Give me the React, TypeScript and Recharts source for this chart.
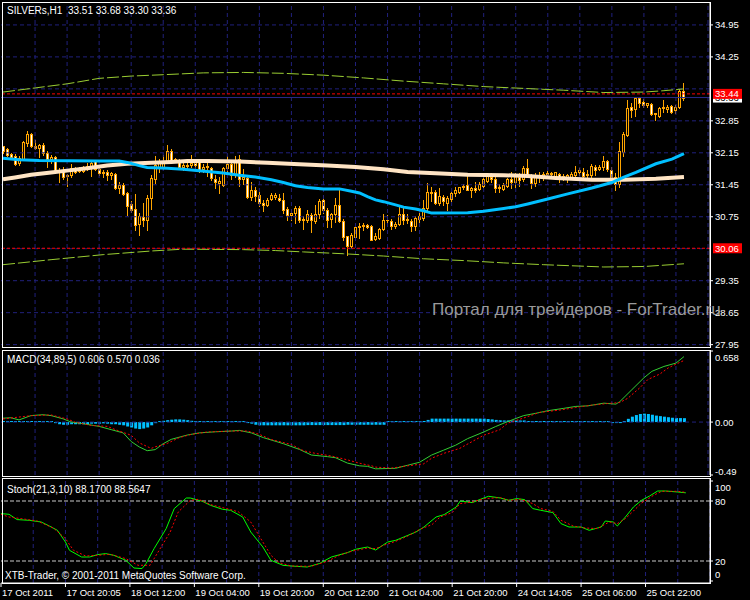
import React from "react";
import { ComposedChart, Bar, Line, XAxis, YAxis, ReferenceLine } from "recharts";

// H1 candles
const opens = [
  32.29, 32.23, 32.12, 32.08, 31.92, 32.01, 32.36, 32.57, 32.29, 32.25,
  32.33, 32.14, 32.01, 32.06, 31.78, 31.74, 31.65, 31.67, 31.79, 31.76,
  31.76, 31.81, 31.83, 31.96, 31.79, 31.71, 31.73, 31.67, 31.69, 31.39,
  31.45, 31.28, 31.03, 30.92, 30.6, 30.74, 30.67, 31.15, 31.57, 31.85,
  31.85, 31.96, 32.2, 32.01, 31.98, 31.85, 31.87, 31.89, 31.92, 31.94,
  31.79, 31.85, 31.81, 31.57, 31.49, 31.45, 31.81, 31.91, 31.67, 32.01,
  31.57, 31.6, 31.19, 31.33, 31.23, 31.05, 31.01, 31.14, 31.18, 31.16,
  31.11, 30.92, 30.79, 30.83, 30.94, 30.67, 30.67, 30.79, 30.65, 30.81,
  31.12, 30.9, 30.7, 30.81, 31.01, 30.65, 30.32, 30.12, 30.31, 30.52,
  30.55, 30.57, 30.55, 30.26, 30.28, 30.48, 30.67, 30.65, 30.54, 30.6,
  30.82, 30.68, 30.65, 30.55, 30.7, 30.72, 30.94, 31.28, 31.3, 31.05,
  31.18, 31.06, 31.14, 31.28, 31.3, 31.4, 31.45, 31.34, 31.38, 31.35,
  31.43, 31.54, 31.62, 31.57, 31.38, 31.35, 31.43, 31.57, 31.52, 31.62,
  31.57, 31.81, 31.65, 31.49, 31.65, 31.62, 31.68, 31.71, 31.65, 31.68,
  31.62, 31.62, 31.63, 31.67, 31.72, 31.72, 31.67, 31.67, 31.84, 31.79,
  31.84, 31.98, 31.78, 31.63, 31.47, 32.16, 32.54, 33.16, 33.11, 33.35,
  33.27, 33.2, 33.22, 33.0, 32.96, 33.13, 33.1, 33.18, 33.08, 33.16,
  33.51,
];
const highs = [
  32.3, 32.25, 32.14, 32.12, 32.07, 32.4, 32.62, 32.59, 32.42, 32.35,
  32.36, 32.18, 32.11, 32.08, 31.81, 31.85, 31.69, 31.91, 31.85, 31.85,
  31.87, 31.92, 31.96, 32.0, 31.85, 31.78, 31.78, 31.74, 31.71, 31.52,
  31.49, 31.3, 31.09, 31.25, 30.83, 31.05, 31.23, 31.67, 32.08, 32.01,
  32.11, 32.33, 32.23, 32.03, 32.01, 31.92, 31.94, 32.11, 32.01, 31.96,
  31.91, 32.0, 31.85, 31.67, 31.63, 31.84, 32.07, 31.94, 32.08, 32.11,
  31.79, 31.62, 31.5, 31.41, 31.3, 31.12, 31.16, 31.27, 31.27, 31.25,
  31.27, 30.96, 30.92, 30.98, 30.98, 30.76, 30.89, 30.83, 31.01, 31.14,
  31.23, 30.94, 30.84, 31.16, 31.34, 30.7, 30.33, 30.39, 30.61, 30.61,
  30.61, 30.6, 30.58, 30.39, 30.5, 30.82, 30.79, 30.7, 30.63, 30.98,
  30.94, 30.82, 30.7, 30.77, 30.83, 31.12, 31.49, 31.4, 31.34, 31.38,
  31.23, 31.21, 31.3, 31.41, 31.41, 31.47, 31.69, 31.41, 31.52, 31.5,
  31.62, 31.7, 31.7, 31.62, 31.47, 31.49, 31.6, 31.74, 31.7, 31.7,
  31.86, 32.01, 31.69, 31.71, 31.72, 31.72, 31.76, 31.72, 31.74, 31.71,
  31.69, 31.69, 31.74, 31.87, 31.81, 31.81, 31.78, 31.91, 31.89, 31.89,
  32.08, 32.0, 31.84, 31.71, 32.38, 32.6, 33.31, 33.25, 33.37, 33.37,
  33.32, 33.25, 33.24, 33.03, 33.15, 33.3, 33.19, 33.19, 33.2, 33.54,
  33.68,
];
const lows = [
  32.14, 32.07, 32.03, 31.89, 31.89, 32.0, 32.3, 32.27, 32.23, 32.06,
  32.11, 31.85, 31.92, 31.71, 31.52, 31.57, 31.43, 31.63, 31.71, 31.72,
  31.72, 31.78, 31.65, 31.78, 31.67, 31.63, 31.56, 31.57, 31.36, 31.28,
  31.23, 30.79, 30.85, 30.47, 30.36, 30.54, 30.47, 30.92, 31.49, 31.74,
  31.79, 31.92, 31.96, 31.96, 31.81, 31.78, 31.81, 31.85, 31.81, 31.74,
  31.74, 31.65, 31.56, 31.38, 31.28, 31.43, 31.7, 31.57, 31.63, 31.43,
  31.47, 31.16, 31.11, 31.09, 30.98, 30.87, 30.98, 31.12, 31.14, 31.09,
  30.84, 30.68, 30.68, 30.61, 30.63, 30.48, 30.63, 30.41, 30.61, 30.72,
  30.84, 30.52, 30.52, 30.63, 30.63, 30.25, 29.92, 30.06, 30.25, 30.28,
  30.47, 30.5, 30.23, 30.25, 30.26, 30.47, 30.61, 30.48, 30.5, 30.58,
  30.6, 30.61, 30.43, 30.47, 30.63, 30.68, 30.9, 31.09, 31.03, 31.01,
  31.01, 30.9, 31.09, 31.21, 31.27, 31.35, 31.33, 31.18, 31.3, 31.33,
  31.4, 31.52, 31.52, 31.3, 31.3, 31.33, 31.41, 31.38, 31.41, 31.43,
  31.54, 31.62, 31.38, 31.43, 31.52, 31.56, 31.63, 31.63, 31.6, 31.52,
  31.55, 31.52, 31.57, 31.63, 31.67, 31.62, 31.63, 31.63, 31.67, 31.78,
  31.78, 31.76, 31.52, 31.34, 31.41, 32.07, 32.51, 32.94, 32.96, 33.16,
  33.16, 33.15, 32.98, 32.87, 32.93, 33.05, 33.05, 33.03, 33.03, 33.13,
  33.3,
];
const closes = [
  32.18, 32.11, 32.06, 31.91, 32.03, 32.38, 32.57, 32.29, 32.25, 32.31,
  32.14, 32.01, 32.05, 31.76, 31.72, 31.63, 31.67, 31.81, 31.74, 31.8,
  31.83, 31.87, 31.92, 31.8, 31.71, 31.72, 31.67, 31.71, 31.38, 31.45,
  31.25, 30.99, 30.89, 30.58, 30.76, 30.67, 31.17, 31.6, 31.89, 31.92,
  31.96, 32.19, 32.0, 31.98, 31.84, 31.89, 31.89, 31.92, 31.89, 31.78,
  31.85, 31.87, 31.6, 31.52, 31.54, 31.81, 31.91, 31.67, 31.98, 31.57,
  31.63, 31.19, 31.34, 31.21, 31.05, 31.01, 31.12, 31.23, 31.23, 31.12,
  30.9, 30.79, 30.84, 30.95, 30.67, 30.7, 30.82, 30.67, 30.81, 31.1,
  30.89, 30.67, 30.81, 31.01, 30.65, 30.3, 30.12, 30.36, 30.52, 30.55,
  30.57, 30.52, 30.25, 30.32, 30.48, 30.67, 30.68, 30.54, 30.6, 30.82,
  30.68, 30.71, 30.54, 30.72, 30.76, 30.94, 31.29, 31.3, 31.05, 31.21,
  31.09, 31.16, 31.28, 31.33, 31.4, 31.43, 31.34, 31.38, 31.33, 31.47,
  31.57, 31.65, 31.57, 31.38, 31.41, 31.45, 31.57, 31.52, 31.63, 31.56,
  31.81, 31.63, 31.49, 31.67, 31.62, 31.68, 31.71, 31.68, 31.72, 31.62,
  31.65, 31.67, 31.68, 31.72, 31.78, 31.65, 31.69, 31.87, 31.78, 31.84,
  31.98, 31.79, 31.63, 31.47, 32.18, 32.57, 33.13, 33.08, 33.35, 33.24,
  33.2, 33.24, 32.99, 33.02, 33.13, 33.16, 33.16, 33.05, 33.16, 33.51,
  33.36,
];

// indicator lines, [bar, value] read at key points
const fastMA: [number, number][] = [
  [0, 32.03], [4, 32.0], [9, 31.98], [24, 31.97], [29, 31.97], [31, 31.94], [34, 31.87],
  [36, 31.83], [41, 31.81], [43, 31.8], [45, 31.79], [51, 31.74], [55, 31.71], [59, 31.66],
  [63, 31.62], [67, 31.56], [70, 31.5], [73, 31.43], [76, 31.39], [80, 31.36], [84, 31.36],
  [87, 31.31], [89, 31.27], [91, 31.19], [93, 31.12], [95, 31.08], [98, 31.01], [100, 30.96],
  [103, 30.92], [105, 30.88], [107, 30.83], [116, 30.84], [120, 30.87], [125, 30.93],
  [128, 30.97], [131, 31.03], [136, 31.14], [141, 31.25], [147, 31.38], [152, 31.5],
  [155, 31.62], [158, 31.72], [163, 31.91], [167, 32.01], [170, 32.13],
];
const slowMA: [number, number][] = [
  [0, 31.57], [3, 31.61], [7, 31.67], [12, 31.72], [16, 31.76], [21, 31.81], [26, 31.87],
  [31, 31.91], [37, 31.93], [42, 31.95], [46, 31.97], [51, 31.97], [59, 31.96], [66, 31.93],
  [74, 31.9], [81, 31.87], [88, 31.84], [95, 31.79], [101, 31.73], [108, 31.7], [116, 31.67],
  [125, 31.66], [131, 31.64], [138, 31.6], [147, 31.56], [155, 31.56], [163, 31.58], [170, 31.62],
];
const envUpper: [number, number][] = [
  [0, 33.48], [8, 33.57], [16, 33.66], [24, 33.78], [32, 33.83], [40, 33.86], [50, 33.9],
  [60, 33.91], [70, 33.89], [80, 33.85], [90, 33.79], [100, 33.72], [110, 33.66], [120, 33.6],
  [130, 33.56], [140, 33.52], [150, 33.47], [160, 33.48], [165, 33.51], [170, 33.55],
];
const envLower: [number, number][] = [
  [0, 29.7], [12, 29.81], [25, 29.92], [37, 30.0], [45, 30.04], [60, 30.03], [68, 30.01],
  [75, 29.98], [85, 29.94], [95, 29.89], [105, 29.83], [115, 29.79], [125, 29.74],
  [135, 29.7], [150, 29.65], [160, 29.66], [170, 29.72],
];

const macdMain: [number, number][] = [
  [0, 0.036], [2, 0.04], [4, 0.02], [7, 0.06], [10, 0.068], [12, 0.06], [15, 0.03], [17, 0],
  [20, -0.015], [24, -0.04], [27, -0.07], [30, -0.1], [32, -0.18], [34, -0.23], [36, -0.265],
  [38, -0.255], [40, -0.2], [42, -0.16], [46, -0.12], [49, -0.1], [53, -0.09], [57, -0.083],
  [59, -0.077], [62, -0.1], [65, -0.144], [70, -0.2], [74, -0.253], [77, -0.305], [81, -0.32],
  [83, -0.33], [86, -0.38], [89, -0.405], [91, -0.41], [93, -0.433], [98, -0.428], [101, -0.4],
  [104, -0.372], [107, -0.305], [110, -0.26], [113, -0.214], [116, -0.153], [120, -0.092],
  [123, -0.041], [126, 0.005], [130, 0.06], [133, 0.081], [136, 0.105], [140, 0.127],
  [143, 0.145], [146, 0.15], [150, 0.175], [153, 0.166], [154, 0.19], [157, 0.3], [160, 0.41],
  [162, 0.47], [165, 0.515], [168, 0.546], [170, 0.606],
];
const macdSignal: [number, number][] = [
  [0, 0.029], [2, 0.038], [7, 0.059], [12, 0.066], [16, 0.029], [18, -0.001], [22, -0.031],
  [26, -0.04], [29, -0.083], [32, -0.122], [34, -0.192], [37, -0.244], [38, -0.229],
  [41, -0.198], [44, -0.144], [47, -0.114], [51, -0.092], [57, -0.083], [61, -0.083],
  [64, -0.114], [67, -0.162], [72, -0.208], [75, -0.265], [78, -0.29], [82, -0.314],
  [86, -0.35], [89, -0.381], [92, -0.405], [93, -0.417], [97, -0.426], [101, -0.405],
  [105, -0.387], [107, -0.335], [110, -0.29], [114, -0.244], [117, -0.183], [120, -0.122],
  [124, -0.071], [126, -0.01], [130, 0.038], [134, 0.09], [139, 0.111], [143, 0.135],
  [147, 0.157], [151, 0.172], [154, 0.181], [156, 0.221], [159, 0.318], [161, 0.394],
  [164, 0.445], [166, 0.5], [168, 0.536], [170, 0.57],
];
const macdHist = [
  0.003, 0.003, 0.003, 0.003, 0.003, 0.003, 0.003, 0.003, 0.003, 0.003, 0.003, 0.003, 0.003,
  -0.01, -0.02, -0.025, -0.025, -0.02, -0.02, -0.02, -0.02, -0.018, -0.015, -0.015, -0.015,
  -0.012, -0.015, -0.02, -0.02, -0.025, -0.03, -0.04, -0.05, -0.06, -0.065, -0.06, -0.05,
  -0.03, -0.01, 0.005, 0.012, 0.018, 0.022, 0.025, 0.025, 0.022, 0.018, 0.012, 0.01, 0.008,
  0.006, 0.005, 0.004, 0.002, 0.002, 0.002, 0.002, 0.002, 0.002, 0.002, 0.002, -0.005,
  -0.015, -0.025, -0.03, -0.03, -0.03, -0.03, -0.03, -0.03, -0.03, -0.03, -0.03, -0.03,
  -0.03, -0.03, -0.028, -0.028, -0.028, -0.028, -0.028, -0.028, -0.028, -0.028, -0.028,
  -0.028, -0.025, -0.025, -0.025, -0.025, -0.025, -0.025, -0.025, -0.025, -0.025, -0.025,
  0.002, 0.002, 0.002, 0.002, 0.002, 0.002, 0.002, 0.002, 0.002, 0.01, 0.02, 0.032, 0.032,
  0.032, 0.032, 0.032, 0.032, 0.032, 0.032, 0.032, 0.032, 0.032, 0.032, 0.032, 0.032, 0.028,
  0.025, 0.02, 0.017, 0.015, 0.015, 0.015, 0.015, 0.015, 0.015, 0.01, 0.01, 0.01, 0.01, 0.01,
  0.01, 0.01, 0.002, 0.002, 0.002, 0.002, 0.002, 0.002, 0.002, 0.002, 0.002, 0.002, 0.002,
  0.002, 0.002, 0.002, -0.004, -0.005, -0.003, 0.01, 0.03, 0.05, 0.065, 0.075, 0.078, 0.075,
  0.068, 0.06, 0.055, 0.05, 0.045, 0.04, 0.038, 0.037, 0.036,
];

const stochMain: [number, number][] = [
  [0, 67.4], [2, 66.7], [4, 61.4], [7, 60.7], [10, 59], [12, 55], [14, 50.7], [16, 39],
  [17, 30.7], [20, 24], [22, 24], [24, 26.4], [26, 27.4], [28, 25.7], [31, 20.7], [33, 13],
  [35, 12.4], [36, 17.4], [38, 32.4], [41, 52.4], [43, 72.4], [46, 83], [47, 83], [50, 79.7],
  [52, 75.7], [55, 71.7], [57, 70.7], [60, 64], [62, 49], [65, 34], [67, 20.7], [70, 15.7],
  [72, 15], [76, 14], [79, 17.4], [82, 24], [86, 28.4], [88, 31.7], [91, 34], [93, 31],
  [96, 39], [98, 40.7], [100, 44], [103, 49], [105, 54], [108, 64], [110, 66.4], [113, 74],
  [114, 80], [117, 78.4], [119, 81.7], [121, 84.7], [124, 83], [126, 80.7], [128, 82.4],
  [130, 81.4], [132, 72.4], [134, 70.7], [137, 68.4], [139, 57.4], [141, 54], [144, 54],
  [146, 50.7], [149, 54], [150, 60], [152, 59], [153, 55], [155, 64], [157, 74], [159, 80.7],
  [161, 85], [163, 90], [165, 90], [168, 89], [170, 88.2],
];
const stochSignal: [number, number][] = [
  [0, 66.7], [2, 64], [5, 62.4], [9, 60], [13, 53], [16, 42.4], [18, 30.7], [21, 25],
  [24, 25.7], [27, 26.7], [31, 22.4], [34, 15.7], [37, 15.7], [39, 29], [42, 49], [44, 69],
  [47, 80.7], [49, 81.7], [52, 76.4], [57, 71.4], [59, 69], [62, 59], [64, 45.7], [67, 25.7],
  [69, 18.4], [72, 15], [77, 14.7], [81, 19.7], [84, 25.7], [87, 29.7], [91, 33], [93, 32.4],
  [95, 35.7], [98, 39.7], [101, 45], [104, 51.7], [107, 56.4], [109, 64], [112, 68.4],
  [114, 77.4], [117, 79], [120, 82.4], [124, 83.4], [126, 80.7], [129, 81.7], [132, 77.4],
  [134, 72.4], [137, 69.7], [139, 60.7], [142, 55], [145, 53], [148, 52.4], [151, 59],
  [153, 57.4], [155, 62.4], [157, 70], [159, 78], [162, 85.7], [164, 89.7], [168, 89.7],
  [170, 88.6],
];

const timeLabels = [
  "17 Oct 2011", "17 Oct 20:05", "18 Oct 12:00", "19 Oct 04:00", "19 Oct 20:00",
  "20 Oct 12:00", "21 Oct 04:00", "21 Oct 20:00", "24 Oct 14:05", "25 Oct 06:00",
  "25 Oct 22:00",
];
const priceLabels = [34.95, 34.25, 32.85, 32.15, 31.45, 30.75, 29.35, 28.65, 27.95];
const priceGrid = [34.95, 34.25, 33.55, 32.85, 32.15, 31.45, 30.75, 30.05, 29.35, 28.65, 27.95];

const SLOTS = 177; // bars plus the empty shift on the right
const FONT = "'Liberation Sans', Arial, sans-serif";
const ORANGE = "#ffa500";
const GRID = "#20207c";

const rows: any[] = Array.from({ length: SLOTS }, (_, i) => {
  const r: any = { idx: i };
  if (i < opens.length) {
    r.open = opens[i];
    r.high = highs[i];
    r.low = lows[i];
    r.close = closes[i];
    r.range = [lows[i], highs[i]];
    r.hist = macdHist[i];
  }
  return r;
});
const put = (key: string, pts: [number, number][]) =>
  pts.forEach(([i, v]) => {
    rows[i][key] = v;
  });
put("fast", fastMA);
put("slow", slowMA);
put("envUp", envUpper);
put("envDn", envLower);
put("macd", macdMain);
put("signal", macdSignal);
put("k", stochMain);
put("d", stochSignal);

const timeTicks = timeLabels.map((_, i) => i * 16);
const gridTicks = Array.from({ length: 22 }, (_, i) => (i + 1) * 8);

const Candle = (props: any) => {
  const { x, y, width, height, payload } = props;
  if (!payload || payload.open == null) return null;
  const { open, close, high, low } = payload;
  const span = high - low || 1;
  const toY = (v: number) => y + ((high - v) / span) * height;
  const cx = Math.floor(x + width / 2) + 0.5;
  const top = Math.round(toY(Math.max(open, close))) + 0.5;
  const bot = Math.round(toY(Math.min(open, close))) + 0.5;
  const bear = close < open;
  return (
    <g shapeRendering="crispEdges">
      <line x1={cx} x2={cx} y1={Math.round(y)} y2={Math.round(y + height) + 1} stroke={ORANGE} />
      {bot - top < 1 ? (
        <line x1={cx - 1.5} x2={cx + 1.5} y1={top} y2={top} stroke={ORANGE} />
      ) : (
        <rect x={cx - 1} y={top} width={2} height={bot - top} fill={bear ? "#ffffff" : "#000000"} stroke={ORANGE} />
      )}
    </g>
  );
};

const priceTag = (text: string, bg: string, fg: string) => (p: any) => {
  const vb = p.viewBox;
  const x = vb.x + vb.width + 3;
  return (
    <g>
      <rect x={x} y={vb.y - 5} width={29} height={10} fill={bg} />
      <text x={x + 2} y={vb.y + 3.5} fill={fg} fontSize={9.5} fontFamily={FONT}>
        {text}
      </text>
    </g>
  );
};

const rightTick = (fmt: (v: number) => string, shift: (v: number) => number) => (p: any) => (
  <text x={p.x} y={p.y + 3.5 + shift(p.payload.value)} fill="#ffffff" fontSize={9.5} fontFamily={FONT}>
    {fmt(p.payload.value)}
  </text>
);

const vGrid = gridTicks.map((t) => (
  <ReferenceLine key={"v" + t} x={t} stroke={GRID} strokeDasharray="4 3" />
));

const margin = { top: 0, right: 0, bottom: 0, left: 1 };

const abs = (left: number, top: number): React.CSSProperties => ({ position: "absolute", left, top });
const label: React.CSSProperties = {
  position: "absolute",
  color: "#ffffff",
  fontFamily: FONT,
  fontSize: 10,
  lineHeight: "12px",
  whiteSpace: "nowrap",
};
const frame = (top: number, height: number): React.CSSProperties => ({
  position: "absolute",
  left: 2,
  top,
  width: 709,
  height,
  border: "1px solid #ffffff",
  boxSizing: "border-box",
  pointerEvents: "none",
});

export default function App() {
  return (
    <div style={{ position: "fixed", left: 0, top: 0, width: 750, height: 600, background: "#000", overflow: "hidden" }}>
      {/* price window */}
      <div style={abs(0, 0)}>
        <ComposedChart width={750} height={348} data={rows} margin={{ ...margin, top: 3, bottom: 2 }} barCategoryGap={0}>
          <XAxis dataKey="idx" type="category" hide />
          <YAxis
            orientation="right"
            width={40}
            domain={[27.92, 35.43]}
            allowDataOverflow
            ticks={priceLabels}
            interval={0}
            axisLine={{ stroke: "#ffffff" }}
            tickLine={{ stroke: "#ffffff" }}
            tickSize={3}
            tick={rightTick((v) => v.toFixed(2), () => 0)}
          />
          {priceGrid.map((p) => (
            <ReferenceLine key={"h" + p} y={p} stroke={GRID} strokeDasharray="4 3" />
          ))}
          {vGrid}
          <Line dataKey="envUp" stroke="#9acd32" strokeDasharray="12 3" dot={false} connectNulls isAnimationActive={false} />
          <Line dataKey="envDn" stroke="#9acd32" strokeDasharray="12 3" dot={false} connectNulls isAnimationActive={false} />
          <ReferenceLine y={33.36} stroke="#2a2a88" label={priceTag("33.36", "#ffffff", "#000000")} />
          <ReferenceLine y={33.44} stroke="#ff0000" strokeDasharray="3 2" label={priceTag("33.44", "#ff0000", "#ffffff")} />
          <ReferenceLine y={30.06} stroke="#ff0000" strokeDasharray="3 2" label={priceTag("30.06", "#ff0000", "#ffffff")} />
          <Line dataKey="slow" stroke="#ffe4c4" strokeWidth={4} dot={false} connectNulls isAnimationActive={false} />
          <Line dataKey="fast" stroke="#00bfff" strokeWidth={3} dot={false} connectNulls isAnimationActive={false} />
          <Bar dataKey="range" shape={<Candle />} isAnimationActive={false} />
        </ComposedChart>
      </div>

      {/* MACD window */}
      <div style={abs(0, 350)}>
        <ComposedChart width={750} height={126} data={rows} margin={{ ...margin, top: 1, bottom: 1 }} barCategoryGap={0}>
          <XAxis dataKey="idx" type="category" hide />
          <YAxis
            orientation="right"
            width={40}
            domain={[-0.49, 0.658]}
            allowDataOverflow
            ticks={[0.658, 0, -0.49]}
            interval={0}
            axisLine={{ stroke: "#ffffff" }}
            tickLine={{ stroke: "#ffffff" }}
            tickSize={3}
            tick={rightTick(
              (v) => (v === 0 ? "0.00" : String(v)),
              (v) => (v > 0.5 ? 6 : v < -0.4 ? -4 : 0)
            )}
          />
          {vGrid}
          <ReferenceLine y={0} stroke={GRID} strokeDasharray="4 3" />
          <Bar dataKey="hist" fill="#00bfff" barSize={3} minPointSize={1} isAnimationActive={false} />
          <Line dataKey="macd" stroke="#32cd32" dot={false} connectNulls isAnimationActive={false} />
          <Line dataKey="signal" stroke="#ff0000" strokeDasharray="2 2" dot={false} connectNulls isAnimationActive={false} />
        </ComposedChart>
      </div>

      {/* Stochastic window + time axis */}
      <div style={abs(0, 478)}>
        <ComposedChart width={750} height={122} data={rows} margin={{ ...margin, top: 1 }}>
          <XAxis
            dataKey="idx"
            type="category"
            ticks={timeTicks}
            interval={0}
            height={17}
            axisLine={{ stroke: "#ffffff" }}
            tickLine={{ stroke: "#ffffff" }}
            tickSize={4}
            tick={(p: any) => (
              <text x={p.x + 1} y={p.y + 7} fill="#ffffff" fontSize={9.5} fontFamily={FONT} textAnchor="start">
                {timeLabels[timeTicks.indexOf(p.payload.value)]}
              </text>
            )}
          />
          <YAxis
            orientation="right"
            width={40}
            domain={[-2, 102]}
            allowDataOverflow
            ticks={[100, 80, 20, 0]}
            interval={0}
            axisLine={{ stroke: "#ffffff" }}
            tickLine={{ stroke: "#ffffff" }}
            tickSize={3}
            tick={rightTick(
              (v) => String(v),
              (v) => (v === 100 ? 6 : v === 0 ? -7 : 0)
            )}
          />
          {vGrid}
          <ReferenceLine y={80} stroke="#c8c8c8" strokeDasharray="4 2" />
          <ReferenceLine y={20} stroke="#c8c8c8" strokeDasharray="4 2" />
          <Line dataKey="k" stroke="#00ff00" dot={false} connectNulls isAnimationActive={false} />
          <Line dataKey="d" stroke="#ff0000" strokeDasharray="2 2" dot={false} connectNulls isAnimationActive={false} />
        </ComposedChart>
      </div>

      <div style={frame(2, 346)} />
      <div style={frame(350, 127)} />
      <div style={frame(478, 106)} />

      <div style={{ ...label, left: 7, top: 5 }}>SILVERs,H1&nbsp;&nbsp;33.51 33.68 33.30 33.36</div>
      <div style={{ ...label, left: 7, top: 354 }}>MACD(34,89,5) 0.606 0.570 0.036</div>
      <div style={{ ...label, left: 7, top: 484 }}>Stoch(21,3,10) 88.1700 88.5647</div>
      <div style={{ ...label, left: 5, top: 570 }}>XTB-Trader, © 2001-2011 MetaQuotes Software Corp.</div>
      <div style={{ ...label, left: 432, top: 300, fontSize: 17, lineHeight: "20px", color: "#9a9a9a" }}>
        Портал для трейдеров - ForTrader.ru
      </div>
    </div>
  );
}
